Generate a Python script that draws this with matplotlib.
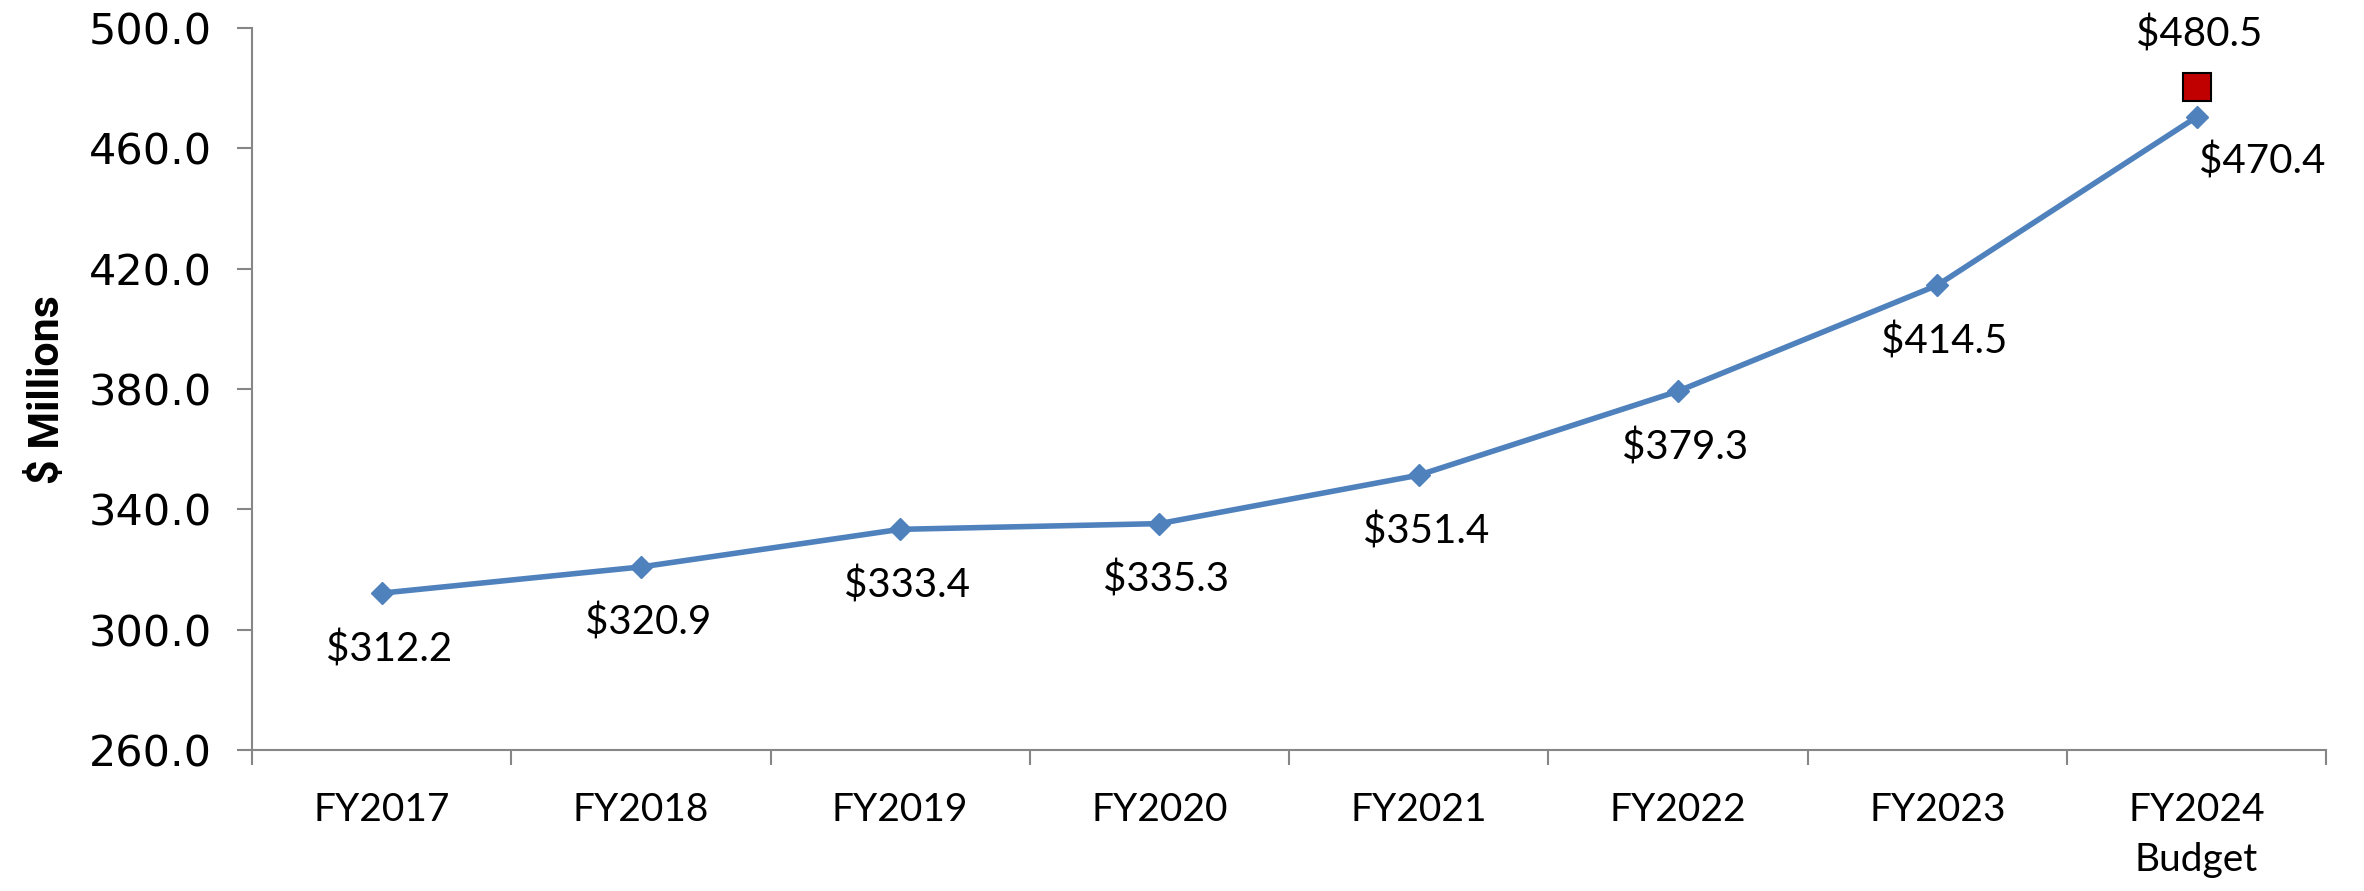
import matplotlib
matplotlib.use("Agg")
import matplotlib.pyplot as plt

categories = ["FY2017", "FY2018", "FY2019", "FY2020", "FY2021", "FY2022", "FY2023", "FY2024\nBudget"]
values = [312.2, 320.9, 333.4, 335.3, 351.4, 379.3, 414.5, 470.4]
budget_value = 480.5
yticks = [260.0, 300.0, 340.0, 380.0, 420.0, 460.0, 500.0]

LINE = "#4F81BD"
AXC = "#868686"
FONT = ["Lato", "DejaVu Sans"]

fig = plt.figure(figsize=(23.64, 8.91), dpi=100)
ax = fig.add_axes([0.1066, 0.158, 0.8774, 0.8106])

x = list(range(len(values)))
ax.plot(x, values, color=LINE, lw=4, marker="D", ms=11, mfc=LINE, mec=LINE, zorder=3)
ax.plot([x[-1]], [budget_value], marker="s", ms=20, mfc="#C00000", mec="black", mew=1.5, ls="none", zorder=4)

for i, v in enumerate(values):
    if i == len(values) - 1:
        ax.annotate(f"${v:.1f}", (i, v), xytext=(66, -44), textcoords="offset pixels",
                    ha="center", va="center", fontsize=29, family=FONT)
    else:
        ax.annotate(f"${v:.1f}", (i, v), xytext=(7, -56), textcoords="offset pixels",
                    ha="center", va="center", fontsize=29, family=FONT)
ax.annotate(f"${budget_value:.1f}", (x[-1], budget_value), xytext=(3, 52), textcoords="offset pixels",
            ha="center", va="center", fontsize=29, family=FONT)

ax.set_xlim(-0.5, len(values) - 0.5)
ax.set_ylim(260, 500)
ax.set_yticks(yticks)
ax.set_yticklabels([f"{t:.1f}" for t in yticks], family=["DejaVu Sans"], fontsize=31)
ax.set_xticks(x)
ax.set_xticklabels(categories, family=FONT, fontsize=28, linespacing=1.5)
ax.set_xticks([i - 0.5 for i in range(len(values) + 1)], minor=True)
ax.tick_params(axis="x", which="major", length=0, pad=30)
ax.tick_params(axis="x", which="minor", length=11, color=AXC, width=1.5, direction="out")
ax.tick_params(axis="y", length=11, color=AXC, width=1.5, direction="out", pad=18)

for s in ["top", "right"]:
    ax.spines[s].set_visible(False)
for s in ["left", "bottom"]:
    ax.spines[s].set_color(AXC)
    ax.spines[s].set_linewidth(1.5)

ax.set_ylabel("$ Millions", fontsize=31, fontweight="bold",
              family=["Liberation Sans Narrow", "Roboto", "DejaVu Sans"])
ax.yaxis.set_label_coords(-0.0885, 0.5)

fig.savefig("out.png", dpi=100)
